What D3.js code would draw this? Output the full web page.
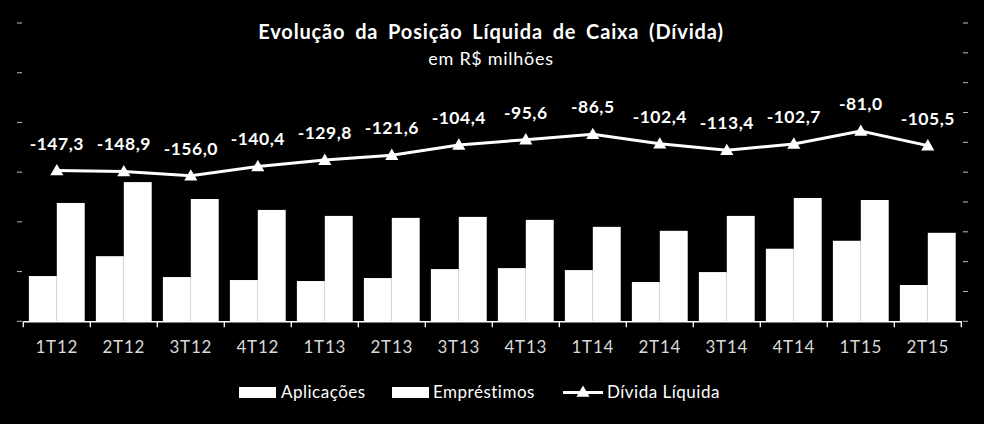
<!DOCTYPE html>
<html>
<head>
<meta charset="utf-8">
<script src="https://cdn.jsdelivr.net/npm/d3@7"></script>
<style>
html,body{margin:0;padding:0;background:#000;}
svg{display:block;}
</style>
</head>
<body>
<svg id="chart" width="984" height="424"></svg>
<script>
const categories = ["1T12","2T12","3T12","4T12","1T13","2T13","3T13","4T13","1T14","2T14","3T14","4T14","1T15","2T15"];
const aplicacoes = [91,131,89,83,81,87,105,107,103,79,99,146,162,73];
const emprestimos = [238,280,246,224,212,208,210,204,190,182,212,248,244,178];
const dividaLiquida = [-147.3,-148.9,-156.0,-140.4,-129.8,-121.6,-104.4,-95.6,-86.5,-102.4,-113.4,-102.7,-81.0,-105.5];
const leftTicks = [0,100,200,300,400,500,600];
const rightTicks = [-400,-350,-300,-250,-200,-150,-100,-50,0,50,100];
const seriesNames = ["Aplicações","Empréstimos","Dívida Líquida"];
const titleText = "Evolução da Posição Líquida de Caixa (Dívida)";
const subtitleText = "em R$ milhões";

const font = "Lato, 'Open Sans', sans-serif";
const svg = d3.select("#chart");
const plotLeft = 23.3, plotRight = 961.3, plotTop = 23, plotBottom = 321.3;

const x = d3.scaleBand().domain(categories).range([plotLeft, plotRight]).paddingInner(0).paddingOuter(0);
const xInner = d3.scaleBand().domain([0,1]).range([0, x.bandwidth()]).paddingOuter(0.2).paddingInner(0);
const yL = d3.scaleLinear().domain([0,600]).range([plotBottom, plotTop]);
const yR = d3.scaleLinear().domain([-400,100]).range([plotBottom, plotTop]);

// axis dashes
svg.append("g").selectAll("line").data(leftTicks).join("line")
  .attr("x1",17).attr("x2",22).attr("y1",d=>yL(d)).attr("y2",d=>yL(d))
  .attr("stroke","#bbb").attr("stroke-width",1);
svg.append("g").selectAll("line").data(rightTicks).join("line")
  .attr("x1",963).attr("x2",968).attr("y1",d=>yR(d)).attr("y2",d=>yR(d))
  .attr("stroke","#bbb").attr("stroke-width",1);

// bars
const g = svg.append("g");
categories.forEach((c,i)=>{
  g.append("rect").attr("x",x(c)+xInner(0)).attr("width",xInner.bandwidth())
    .attr("y",yL(aplicacoes[i])).attr("height",yL(0)-yL(aplicacoes[i])).attr("fill","#fff");
  g.append("rect").attr("x",x(c)+xInner(1)).attr("width",xInner.bandwidth())
    .attr("y",yL(emprestimos[i])).attr("height",yL(0)-yL(emprestimos[i])).attr("fill","#fff");
});

// x axis
const xAxis = d3.axisBottom(x).tickSize(0).tickPadding(0).tickFormat(d=>d);
const ax = svg.append("g").attr("transform",`translate(0,${plotBottom})`).call(xAxis);
ax.select(".domain").attr("stroke","#fff").attr("stroke-width",1.5);
ax.selectAll(".tick text").attr("y",32).attr("dy",0).attr("font-family",font).attr("font-size","17px")
  .attr("letter-spacing","0.8px").attr("fill","#d9d9d9");
const bounds = categories.map(c=>x(c)).concat([plotRight]);
svg.append("g").selectAll("line").data(bounds).join("line")
  .attr("x1",d=>d).attr("x2",d=>d).attr("y1",plotBottom).attr("y2",plotBottom+6)
  .attr("stroke","#fff").attr("stroke-width",1.3);

// line
const cx = c => x(c)+x.bandwidth()/2;
const line = d3.line().x((d,i)=>cx(categories[i])).y(d=>yR(d));
svg.append("path").datum(dividaLiquida).attr("d",line).attr("fill","none")
  .attr("stroke","#fff").attr("stroke-width",3);
const tri = d3.symbol().type(d3.symbolTriangle).size(75);
svg.append("g").selectAll("path").data(dividaLiquida).join("path")
  .attr("d",tri).attr("transform",(d,i)=>`translate(${cx(categories[i])},${yR(d)+1})`).attr("fill","#fff");
svg.append("g").selectAll("text").data(dividaLiquida).join("text")
  .attr("x",(d,i)=>cx(categories[i])).attr("y",d=>yR(d)-21)
  .attr("text-anchor","middle").attr("font-family",font).attr("font-weight","bold")
  .attr("font-size","17.5px").attr("letter-spacing","0.5px").attr("fill","#fff")
  .text(d=>d3.format(".1f")(d).replace(".",",").replace("−","-"));

// title
svg.append("text").attr("x",491).attr("y",39).attr("text-anchor","middle")
  .attr("font-family",font).attr("font-weight","bold").attr("font-size","20px")
  .attr("letter-spacing","0.85px").attr("word-spacing","4px").attr("fill","#fff").text(titleText);
svg.append("text").attr("x",491).attr("y",65).attr("text-anchor","middle")
  .attr("font-family",font).attr("font-size","18px").attr("letter-spacing","0.7px").attr("fill","#fff").text(subtitleText);

// legend
const lg = svg.append("g").attr("font-family",font).attr("font-size","17px").attr("letter-spacing","0.5px").attr("fill","#fff");
lg.append("rect").attr("x",239).attr("y",387).attr("width",37).attr("height",11).attr("fill","#fff");
lg.append("text").attr("x",281).attr("y",398).text(seriesNames[0]);
lg.append("rect").attr("x",392).attr("y",387).attr("width",37).attr("height",11).attr("fill","#fff");
lg.append("text").attr("x",433).attr("y",398).text(seriesNames[1]);
lg.append("line").attr("x1",563).attr("x2",603).attr("y1",392.5).attr("y2",392.5).attr("stroke","#fff").attr("stroke-width",3);
lg.append("path").attr("d",tri).attr("transform","translate(583,393)").attr("fill","#fff");
lg.append("text").attr("x",607).attr("y",398).text(seriesNames[2]);
</script>
</body>
</html>
